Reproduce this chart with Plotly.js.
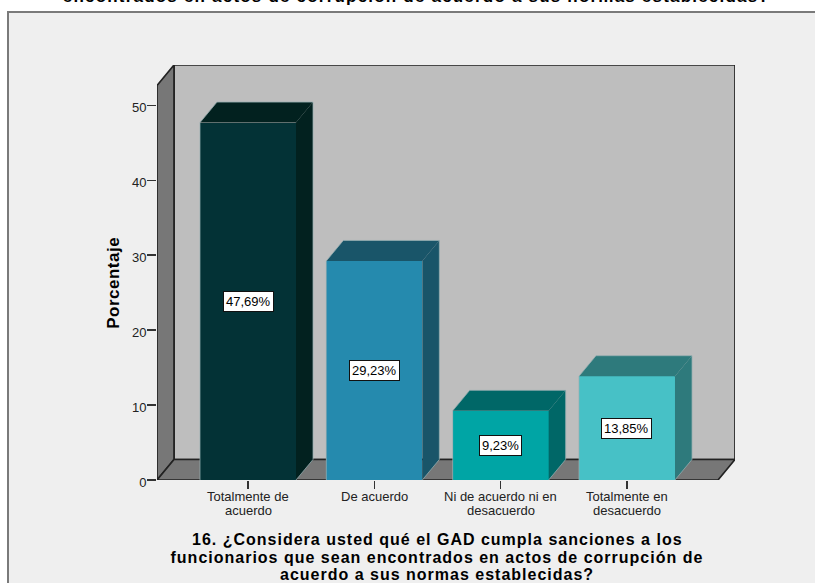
<!DOCTYPE html>
<html><head><meta charset="utf-8">
<script src="https://cdn.plot.ly/plotly-3.0.1.min.js"></script>
<style>html,body{margin:0;padding:0;background:#fff;overflow:hidden}#c{width:815px;height:583px}</style>
</head><body><div id="c"></div>
<script>
const categories = [["Totalmente de","acuerdo"],["De acuerdo"],["Ni de acuerdo ni en","desacuerdo"],["Totalmente en","desacuerdo"]];
const values = [47.69,29.23,9.23,13.85];
const valueLabels = ["47,69%","29,23%","9,23%","13,85%"];
const frontColors = ["#033236","#258aae","#00a5a5","#47c1c6"];
const sideColors = ["#02211f","#195569","#006767","#2e7a7c"];
const yTicks = [0,10,20,30,40,50];
const yTitle = "Porcentaje";
const xTitleLines = ["16. ¿Considera usted qué el GAD cumpla sanciones a los","funcionarios que sean encontrados en actos de corrupción de","acuerdo a sus normas establecidas?"];
const topTitle = "encontrados en actos de corrupción de acuerdo a sus normas establecidas?";

const W=815,H=583, L=157,R=735,T=65,B=480.3;
const pxPerCat=126.33, pxPerUnit=7.5, firstCenter=248;
const xr=[(L-firstCenter)/pxPerCat,(R-firstCenter)/pxPerCat];
const yr=[0,(B-T)/pxPerUnit];
const dx=17/pxPerCat, dy=20.5/pxPerUnit, hw=48/pxPerCat;
const x0=xr[0], x1=xr[1]-dx, yTop=yr[1]-dy;
const px=p=>(p-L)/(R-L), py=p=>(B-p)/(B-T);

const idx=categories.map((_,i)=>i);
const poly=(pts,color)=>({type:'path',xref:'x',yref:'y',layer:'below',
  path:'M'+pts.map(p=>p.join(',')).join('L')+'Z',fillcolor:color,line:{color:'#222',width:1.7}});
const shapes=[
  {type:'rect',xref:'paper',yref:'paper',layer:'below',x0:px(8),x1:px(840),y0:py(610),y1:py(12),fillcolor:'#efefef',line:{color:'#7a7a7a',width:2}},
  poly([[x0+dx,dy],[x1+dx,dy],[x1+dx,yr[1]],[x0+dx,yr[1]]],'#bebebe'),
  poly([[x0,0],[x0+dx,dy],[x0+dx,yr[1]],[x0,yTop]],'#777777'),
  poly([[x0,0],[x1,0],[x1+dx,dy],[x0+dx,dy]],'#777777'),
];
const side=idx.map(i=>({type:'scatter',mode:'lines',fill:'toself',hoverinfo:'skip',showlegend:false,
  x:[i+hw,i+hw+dx,i+hw+dx,i+hw,i+hw],y:[0,dy,values[i]+dy,values[i],0],
  fillcolor:sideColors[i],line:{width:0}}));
const top_=idx.map(i=>({type:'scatter',mode:'lines',fill:'toself',hoverinfo:'skip',showlegend:false,
  x:[i-hw,i-hw+dx,i+hw+dx,i+hw,i-hw],y:[values[i],values[i]+dy,values[i]+dy,values[i],values[i]],
  fillcolor:sideColors[i],line:{width:0}}));
const edge=idx.map(i=>({type:'scatter',mode:'lines',hoverinfo:'skip',showlegend:false,
  x:[i-hw,i-hw,i-hw+dx,i+hw+dx,i+hw+dx,i+hw],y:[0,values[i],values[i]+dy,values[i]+dy,dy,0],
  line:{color:'rgba(150,175,178,0.75)',width:1}}));
const bars={type:'bar',x:idx,y:values,width:hw*2,hoverinfo:'skip',showlegend:false,
  marker:{color:frontColors,line:{width:0}}};

const sans='Liberation Sans';
const annots=idx.map(i=>({xref:'x',yref:'y',x:i,y:values[i]/2,text:valueLabels[i],showarrow:false,
  xanchor:'center',yanchor:'middle',
  font:{family:sans,size:13,color:'#000'},bgcolor:'#fff',bordercolor:'#111',borderwidth:1,borderpad:2}));
idx.forEach(i=>categories[i].forEach((line,k)=>annots.push({xref:'x',yref:'paper',x:i,y:py(497+k*13.4),
  text:line,showarrow:false,xanchor:'center',yanchor:'middle',font:{family:sans,size:13,color:'#222'}})));
annots.push({xref:'paper',yref:'paper',x:px(113),y:py(283.5),text:yTitle,textangle:-90,showarrow:false,
  xanchor:'center',yanchor:'middle',font:{family:sans,size:17,color:'#000',weight:700}});
xTitleLines.forEach((line,k)=>annots.push({xref:'paper',yref:'paper',x:px(437),y:py(540+k*17.4),text:line,showarrow:false,
  xanchor:'center',yanchor:'middle',font:{family:sans,size:16,color:'#000',weight:700}}));
annots.push({xref:'paper',yref:'paper',x:px(416.7),y:py(-4),yanchor:'middle',xanchor:'center',text:topTitle,showarrow:false,
  font:{family:sans,size:17,color:'#000',weight:700}});

Plotly.newPlot('c',[...side,...top_,bars,...edge],{
  width:W,height:H,paper_bgcolor:'#fff',plot_bgcolor:'rgba(0,0,0,0)',showlegend:false,
  margin:{l:L,r:W-R,t:T,b:H-B,pad:0},
  xaxis:{range:xr,tickmode:'array',tickvals:idx,showticklabels:false,ticks:'outside',ticklen:8,tickwidth:1.4,tickcolor:'#333',
    showgrid:false,zeroline:false,showline:false},
  yaxis:{range:yr,tickmode:'array',tickvals:yTicks,ticks:'outside',ticklen:9,tickwidth:1.4,tickcolor:'#333',ticklabelstandoff:-2,ticklabelshift:2,
    showgrid:false,zeroline:false,showline:false,tickfont:{family:sans,size:13,color:'#222'}},
  shapes:shapes,annotations:annots,bargap:0
},{displayModeBar:false,staticPlot:true}).then(()=>{
  document.querySelectorAll('.annotation-text').forEach(t=>{
    const s=t.textContent;
    if(s===topTitle) t.style.letterSpacing='1.2px';
    else if(xTitleLines.includes(s)) t.style.letterSpacing='1px';
    else if(s===yTitle) t.style.letterSpacing='0.5px';
  });
});
</script></body></html>
